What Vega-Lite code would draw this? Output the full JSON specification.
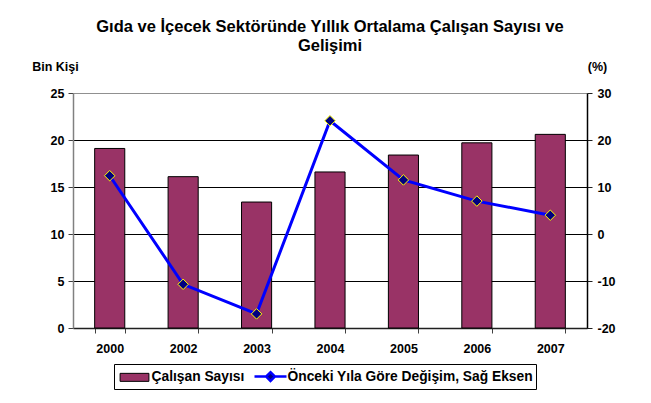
{
  "$schema": "https://vega.github.io/schema/vega-lite/v6.json",
  "width": 514,
  "height": 235,
  "autosize": {"type": "none"},
  "padding": {"left": 73, "top": 93, "right": 64, "bottom": 75},
  "background": "white",
  "config": {
    "view": {"stroke": null},
    "font": "Liberation Sans",
    "legend": {"symbolFillColor": "#993366"},
    "axis": {"labelFont": "Liberation Sans", "labelFontWeight": "bold", "labelFontSize": 12.5, "labelColor": "#000", "titleFont": "Liberation Sans", "titleFontWeight": "bold", "titleFontSize": 12.5, "titleColor": "#000", "labelOverlap": false}
  },
  "title": {
    "text": ["Gıda ve İçecek Sektöründe Yıllık Ortalama Çalışan Sayısı ve", "Gelişimi"],
    "font": "Liberation Sans",
    "fontSize": 16.5,
    "fontWeight": "bold",
    "color": "#000",
    "lineHeight": 19,
    "anchor": "middle",
    "frame": "group",
    "offset": 6
  },
  "datasets": {
    "main": [
      {"year": "2000", "count": 19.1, "change": 12.4},
      {"year": "2002", "count": 16.1, "change": -10.7},
      {"year": "2003", "count": 13.4, "change": -17.0},
      {"year": "2004", "count": 16.6, "change": 24.1},
      {"year": "2005", "count": 18.4, "change": 11.5},
      {"year": "2006", "count": 19.7, "change": 7.0},
      {"year": "2007", "count": 20.6, "change": 4.0}
    ],
    "series": [
      {"year": "2000", "s": "Çalışan Sayısı"},
      {"year": "2000", "s": "Önceki Yıla Göre Değişim, Sağ Eksen"}
    ]
  },
  "data": {"name": "main"},
  "encoding": {
    "x": {
      "field": "year",
      "type": "nominal",
      "sort": null,
      "scale": {"paddingInner": 0.59, "paddingOuter": 0.295},
      "axis": {
        "title": null,
        "labelAngle": 0,
        "tickBand": "extent",
        "tickSize": 5,
        "tickColor": "#404040",
        "domainColor": "#202020",
        "domainWidth": 1.5,
        "labelPadding": 9,
        "grid": false
      }
    }
  },
  "layer": [
    {
      "mark": {"type": "bar", "fill": "#993366", "stroke": "#000", "strokeWidth": 1},
      "encoding": {
        "y": {
          "field": "count",
          "type": "quantitative",
          "scale": {"domain": [0, 25], "nice": false},
          "axis": {
            "title": "Bin Kişi",
            "titleAngle": 0,
            "titleX": -18,
            "titleY": -27,
            "titleAlign": "center",
            "titleBaseline": "middle",
            "values": [0, 5, 10, 15, 20, 25],
            "grid": true,
            "gridColor": {"condition": {"test": "datum.value == 25", "value": "#909090"}, "value": "#000"},
            "gridWidth": 1,
            "tickSize": 5,
            "tickColor": "#404040",
            "domainColor": "#808080",
            "domainWidth": 1.5,
            "labelPadding": 4
          }
        }
      }
    },
    {
      "layer": [
        {
          "mark": {"type": "line", "color": "#0000FF", "strokeWidth": 3},
          "encoding": {
            "y": {
              "field": "change",
              "type": "quantitative",
              "scale": {"domain": [-20, 30], "nice": false},
              "axis": {
                "orient": "right",
                "title": "(%)",
                "titleAngle": 0,
                "titleX": 10,
                "titleY": -27,
                "titleAlign": "center",
                "titleBaseline": "middle",
                "values": [-20, -15, -10, -5, 0, 5, 10, 15, 20, 25, 30],
                "labelOverlap": false,
                "labelExpr": "replace(datum.label, '−', '-')",
                "grid": false,
                "tickSize": 5,
                "tickColor": "#202020",
                "domainColor": "#000",
                "domainWidth": 1.5,
                "labelPadding": 5
              }
            }
          }
        },
        {
          "mark": {"type": "point", "shape": "diamond", "filled": true, "fill": "#000080", "stroke": "#FFFF00", "strokeWidth": 1, "size": 110, "opacity": 1},
          "encoding": {
            "y": {"field": "change", "type": "quantitative"}
          }
        }
      ]
    },
    {
      "data": {"name": "series"},
      "mark": {"type": "point", "filled": true, "opacity": 0},
      "encoding": {
        "color": {
          "field": "s",
          "type": "nominal",
          "scale": {"domain": ["Çalışan Sayısı", "Önceki Yıla Göre Değişim, Sağ Eksen"], "range": ["#993366", "#000080"]},
          "legend": {
            "title": null,
            "orient": "none",
            "legendX": 41,
            "legendY": 271,
            "direction": "horizontal",
            "columns": 2,
            "strokeColor": "#000",
            "fillColor": "#fff",
            "padding": 3,
            "labelFont": "Liberation Sans",
            "labelFontSize": 13.8,
            "labelFontWeight": "bold",
            "labelColor": "#000",
            "labelLimit": 400,
            "labelOffset": 7.5,
            "symbolOffset": 8,
            "columnPadding": 4,
            "symbolSize": 256,
            "symbolOpacity": 1,
            "symbolFillColor": "#993366"
          }
        },
        "stroke": {
          "field": "s",
          "type": "nominal",
          "scale": {"domain": ["Çalışan Sayısı", "Önceki Yıla Göre Değişim, Sağ Eksen"], "range": ["#000000", "#0000FF"]},
          "legend": {"title": null, "symbolFillColor": "#993366"}
        },
        "shape": {
          "field": "s",
          "type": "nominal",
          "scale": {"domain": ["Çalışan Sayısı", "Önceki Yıla Göre Değişim, Sağ Eksen"], "range": ["M-1.8,-0.5H1.8V0.5H-1.8Z", "M-2,0H-0.55M0.55,0H2M0,-0.55L0.55,0L0,0.55L-0.55,0Z"]},
          "legend": {"title": null, "symbolFillColor": "#993366"}
        },
        "strokeWidth": {
          "field": "s",
          "type": "nominal",
          "scale": {"type": "ordinal", "domain": ["Çalışan Sayısı", "Önceki Yıla Göre Değişim, Sağ Eksen"], "range": [1, 2.5]},
          "legend": {"title": null, "symbolFillColor": "#993366"}
        }
      }
    }
  ],
  "resolve": {"scale": {"y": "independent"}}
}
